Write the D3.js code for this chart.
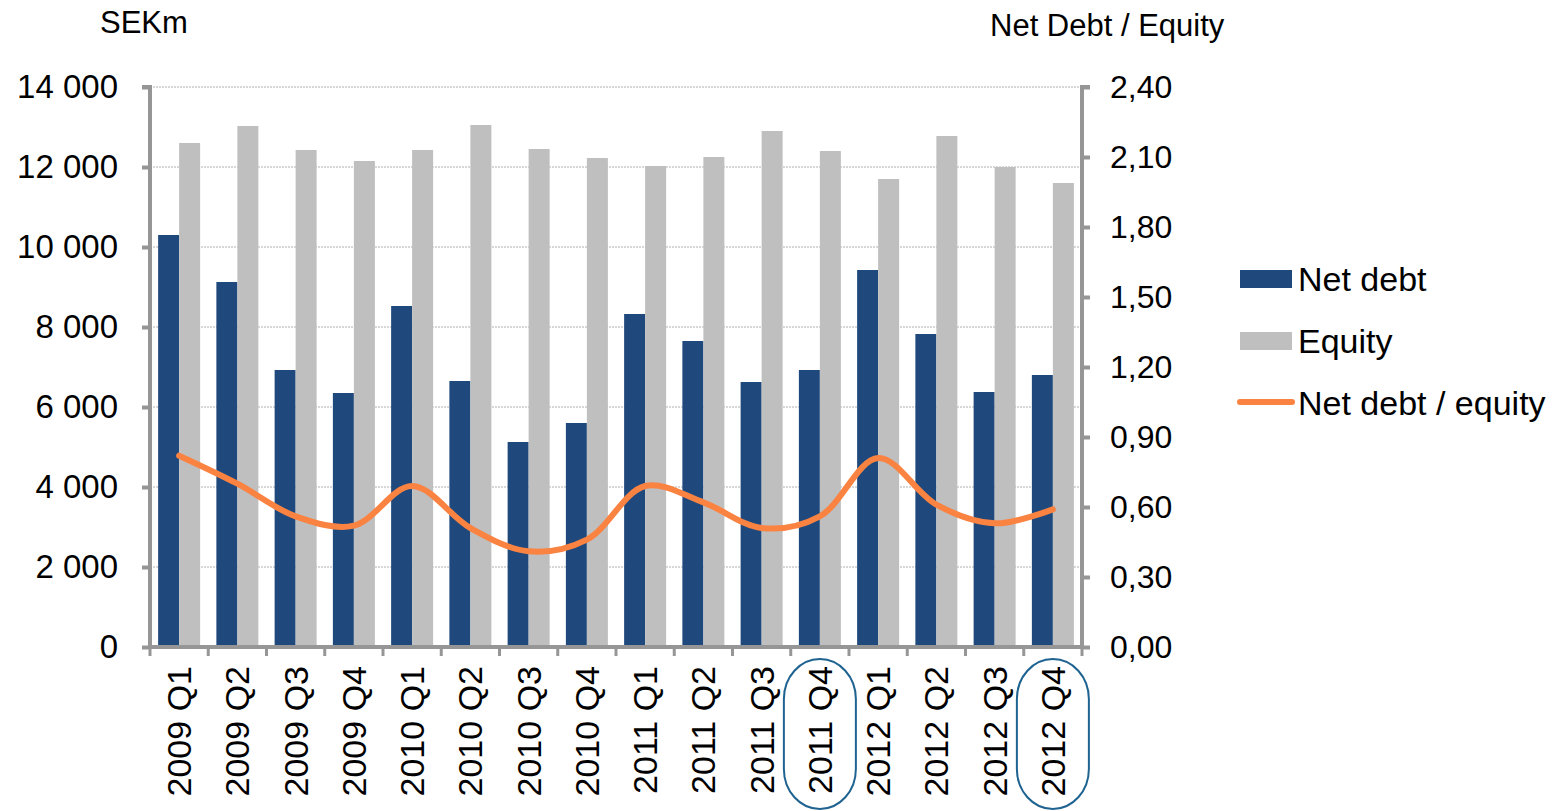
<!DOCTYPE html>
<html>
<head>
<meta charset="utf-8">
<script src="https://cdn.jsdelivr.net/npm/d3@7"></script>
<style>
  body { margin: 0; background: #fff; }
  svg { font-family: "Liberation Sans", Arial, sans-serif; }
</style>
</head>
<body>
<svg id="chart" width="1553" height="811"></svg>
<script>
// data
var quarters = ['2009 Q1','2009 Q2','2009 Q3','2009 Q4','2010 Q1','2010 Q2','2010 Q3','2010 Q4',
                '2011 Q1','2011 Q2','2011 Q3','2011 Q4','2012 Q1','2012 Q2','2012 Q3','2012 Q4'];
var netDebt = [10300, 9125, 6925, 6350, 8525, 6650, 5125, 5600, 8325, 7650, 6625, 6925, 9425, 7825, 6375, 6800];
var equity = [12600, 13025, 12425, 12150, 12425, 13050, 12450, 12225, 12025, 12250, 12900, 12400, 11700, 12775, 12000, 11600];
var ratio = [0.82, 0.70, 0.56, 0.52, 0.69, 0.51, 0.41, 0.46, 0.69, 0.62, 0.51, 0.56, 0.81, 0.61, 0.53, 0.59];
var leftTicks = [0, 2000, 4000, 6000, 8000, 10000, 12000, 14000];
var rightTicks = [0, 0.3, 0.6, 0.9, 1.2, 1.5, 1.8, 2.1, 2.4];
var circled = ['2011 Q4', '2012 Q4'];

var svg = d3.select('#chart');
var plotL = 150, plotR = 1082, plotT = 87, plotB = 647;
var axisColor = '#969696';
var font = '"Liberation Sans", Arial, sans-serif';

var x = d3.scaleBand().domain(quarters).range([plotL, plotR]);
var yL = d3.scaleLinear().domain([0, 14000]).range([plotB, plotT]);
var yR = d3.scaleLinear().domain([0, 2.4]).range([plotB, plotT]);
var barW = 21;

// gridlines
svg.append('g').selectAll('line').data(leftTicks.slice(1)).enter().append('line')
    .attr('x1', plotL).attr('x2', plotR)
    .attr('y1', function(d) { return yL(d); }).attr('y2', function(d) { return yL(d); })
    .attr('stroke', '#b0b0b0').attr('stroke-width', 1).attr('stroke-dasharray', '2,1');

// bars
var groups = svg.append('g').selectAll('g').data(quarters).enter().append('g');
groups.append('rect')
    .attr('x', function(d) { return x(d) + x.bandwidth() / 2 - barW; })
    .attr('y', function(d, i) { return yL(netDebt[i]); })
    .attr('width', barW)
    .attr('height', function(d, i) { return plotB - yL(netDebt[i]); })
    .attr('fill', '#1f497d');
groups.append('rect')
    .attr('x', function(d) { return x(d) + x.bandwidth() / 2; })
    .attr('y', function(d, i) { return yL(equity[i]); })
    .attr('width', barW)
    .attr('height', function(d, i) { return plotB - yL(equity[i]); })
    .attr('fill', '#bfbfbf');

// ratio line
var line = d3.line()
    .x(function(d, i) { return x(quarters[i]) + x.bandwidth() / 2; })
    .y(function(d) { return yR(d); })
    .curve(d3.curveCatmullRom.alpha(0.5));
svg.append('path').datum(ratio)
    .attr('d', line)
    .attr('fill', 'none')
    .attr('stroke', '#fa8342')
    .attr('stroke-width', 6)
    .attr('stroke-linecap', 'round');

// left axis
var gL = svg.append('g').attr('transform', 'translate(' + plotL + ',0)')
    .call(d3.axisLeft(yL).tickValues(leftTicks).tickSize(8).tickPadding(24)
        .tickFormat(function(d) { return d3.format(',')(d).replace(/,/g, ' '); }));
gL.select('.domain').attr('stroke', axisColor).attr('stroke-width', 4).attr('d', 'M-8,' + plotT + 'H0V' + plotB);
gL.selectAll('.tick line').attr('stroke', axisColor).attr('stroke-width', 4);
gL.selectAll('.tick text').attr('font-size', 33).attr('fill', '#000').attr('font-family', font);

// right axis
var gR = svg.append('g').attr('transform', 'translate(' + plotR + ',0)')
    .call(d3.axisRight(yR).tickValues(rightTicks).tickSize(8).tickPadding(20)
        .tickFormat(function(d) { return d3.format('.2f')(d).replace('.', ','); }));
gR.select('.domain').attr('stroke', axisColor).attr('stroke-width', 4).attr('d', 'M8,' + plotT + 'H0V' + plotB);
gR.selectAll('.tick line').attr('stroke', axisColor).attr('stroke-width', 4);
gR.selectAll('.tick text').attr('font-size', 32).attr('fill', '#000').attr('font-family', font);

// bottom axis
svg.append('line').attr('x1', plotL - 2).attr('x2', plotR + 2).attr('y1', plotB).attr('y2', plotB)
    .attr('stroke', axisColor).attr('stroke-width', 4);
svg.append('g').selectAll('line').data(d3.range(quarters.length + 1)).enter().append('line')
    .attr('x1', function(i) { return plotL + i * x.bandwidth(); })
    .attr('x2', function(i) { return plotL + i * x.bandwidth(); })
    .attr('y1', plotB).attr('y2', plotB + 9)
    .attr('stroke', axisColor).attr('stroke-width', 3);
svg.append('g').selectAll('text').data(quarters).enter().append('text')
    .attr('transform', function(d) { return 'translate(' + (x(d) + x.bandwidth() / 2 + 12) + ',' + 666 + ') rotate(-90)'; })
    .attr('text-anchor', 'end')
    .attr('font-size', 34)
    .text(function(d) { return d; });

// highlight ovals
svg.append('g').selectAll('rect').data(circled).enter().append('rect')
    .attr('x', function(d) { return x(d) + x.bandwidth() / 2 - 36; })
    .attr('y', 659)
    .attr('width', 72)
    .attr('height', 150)
    .attr('rx', 36).attr('ry', 40)
    .attr('fill', 'none')
    .attr('stroke', '#1f6391')
    .attr('stroke-width', 2);

// axis titles
svg.append('text').attr('x', 100).attr('y', 33).attr('font-size', 31).text('SEKm');
svg.append('text').attr('x', 990).attr('y', 36).attr('font-size', 31).text('Net Debt / Equity');

// legend
var legend = svg.append('g');
legend.append('rect').attr('x', 1240).attr('y', 270).attr('width', 52).attr('height', 18).attr('fill', '#1f497d');
legend.append('rect').attr('x', 1240).attr('y', 332).attr('width', 52).attr('height', 18).attr('fill', '#bfbfbf');
legend.append('line').attr('x1', 1240).attr('x2', 1292).attr('y1', 402).attr('y2', 402)
    .attr('stroke', '#fa8342').attr('stroke-width', 6).attr('stroke-linecap', 'round');
legend.selectAll('text').data(['Net debt', 'Equity', 'Net debt / equity']).enter().append('text')
    .attr('x', 1298)
    .attr('y', function(d, i) { return 291 + i * 62; })
    .attr('font-size', 34)
    .text(function(d) { return d; });
</script>
</body>
</html>
